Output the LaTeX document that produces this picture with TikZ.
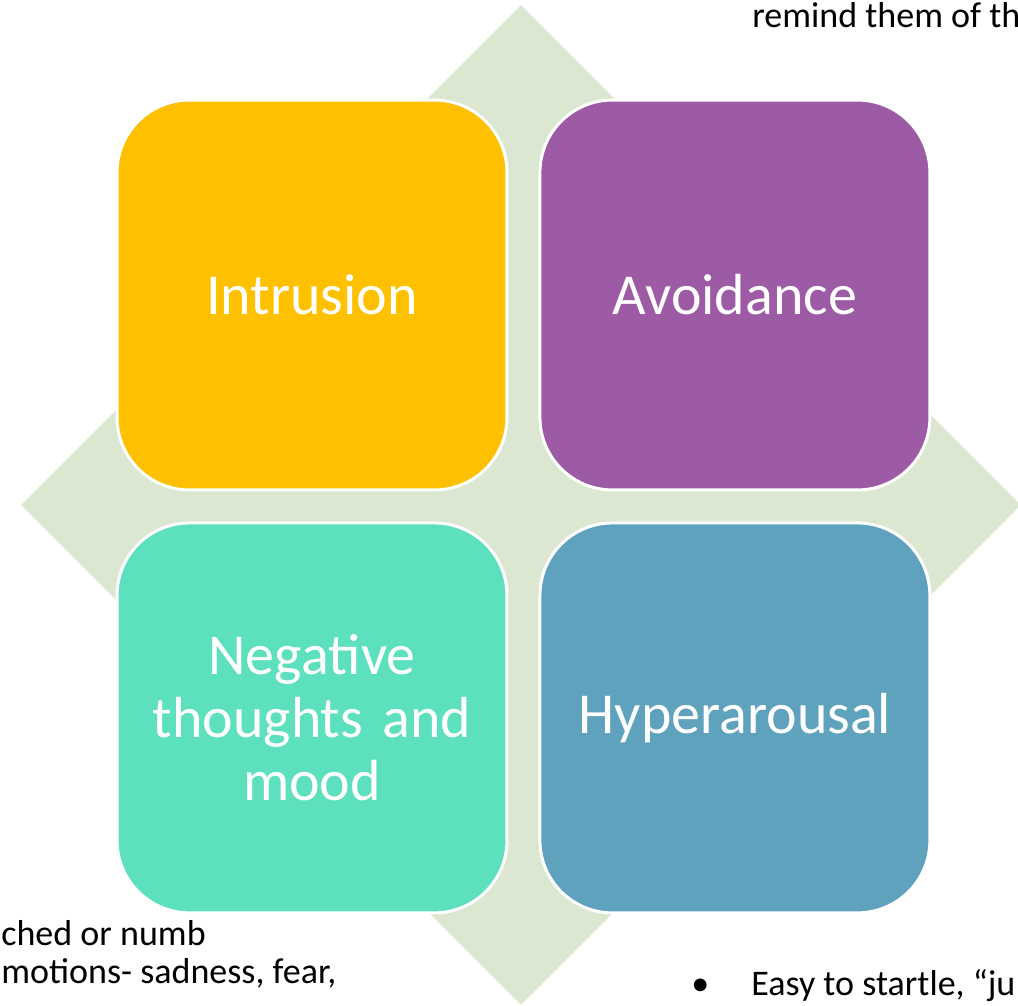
\documentclass[tikz,border=0pt]{standalone}
\usepackage{fontspec}
\setmainfont{Carlito}
\usetikzlibrary{positioning}
\usetikzlibrary{shapes.geometric}

\definecolor{diamondgreen}{HTML}{DCE7D2}
\definecolor{intrusioncol}{HTML}{FFC000}
\definecolor{avoidcol}{HTML}{9D5AA5}
\definecolor{negcol}{HTML}{5CE0BD}
\definecolor{hypercol}{HTML}{5FA2BD}

\begin{document}
\begin{tikzpicture}[x=0.02cm, y=-0.02cm]
  \tikzstyle{back} = [diamond, fill=diamondgreen, draw=none, inner sep=0pt,
    minimum width=20cm, minimum height=20cm, aspect=1]
  \tikzstyle{box} = [rounded corners=1.45cm, draw=white, line width=1.7pt,
    minimum width=7.8cm, minimum height=7.8cm, inner sep=0pt, text=white,
    align=center, text width=7cm, font=\fontsize{33}{36}\selectfont]
  \tikzstyle{side} = [anchor=base west, inner sep=0pt,
    font=\fontsize{20.5}{22.7}\selectfont]

  \useasboundingbox (0,0) rectangle (1018,1006);

  \node (back) [back] at (521,505) {};

  \node (intrusion) [box, fill=intrusioncol] at (312,295) {Intrusion};
  \node (avoidance) [box, fill=avoidcol, right=0.6cm of intrusion] {Avoidance};
  \node (negative) [box, fill=negcol, below=0.6cm of intrusion] {Nega\kern0pt tive\\thoughts and\\mood};
  \node (hyper) [box, fill=hypercol, right=0.6cm of negative] {Hyperarousal};

  % text running off the page
  \node (remind) [side] at (752,28) {remind them of th};
  \node (numb) [side] at (1,945) {ched or numb};
  \node (emotions) [side] at (1,983) {motions- sadness, fear,};
  \node (bullet) [side] at (691,995) {\textbullet};
  \node (startle) [side] at (751,995) {Easy to startle, “ju};
\end{tikzpicture}
\end{document}
